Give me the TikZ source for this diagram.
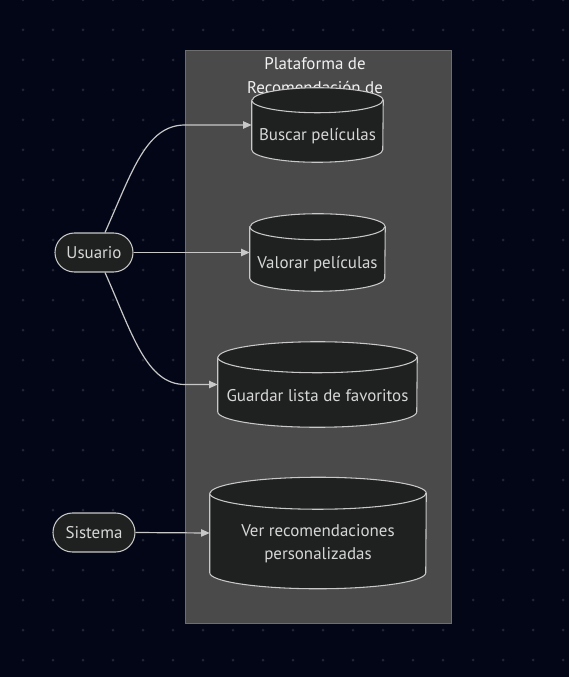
\documentclass[tikz,border=0pt]{standalone}
\usepackage{fontspec}
\setmainfont{PT Sans}
\usetikzlibrary{arrows.meta}

\definecolor{bgc}{RGB}{2,6,23}
\definecolor{dotc}{RGB}{34,38,50}
\definecolor{groupc}{RGB}{73,74,73}
\definecolor{grouplc}{RGB}{110,110,110}
\definecolor{nodec}{RGB}{31,32,32}
\definecolor{linec}{RGB}{200,200,200}
\definecolor{textc}{RGB}{215,215,215}

% cylinder round a body node: name, x radius, y radius
\newcommand{\dbcyl}[3]{%
  \filldraw[dbline] (#1.north west) -- (#1.south west)
    arc[start angle=180,end angle=360,x radius=#2,y radius=#3]
    -- (#1.north east)
    arc[start angle=0,end angle=180,x radius=#2,y radius=#3] -- cycle;
  \draw[dbline] (#1.north west) arc[start angle=180,end angle=360,x radius=#2,y radius=#3];
}

\begin{document}
\begin{tikzpicture}[x=0.75pt,y=0.75pt,
  >={Triangle[length=6.5pt,width=5.5pt]},
  dbline/.style={draw=linec,fill=nodec,line width=0.8pt},
  dbbody/.style 2 args={minimum width=#1*0.75pt,minimum height=#2*0.75pt,inner sep=0pt,draw=none},
  dbtext/.style={text=textc,font=\fontsize{12.7pt}{17.25pt}\selectfont,align=center,inner sep=0pt},
  actor/.style={draw=linec,fill=nodec,line width=0.8pt,rounded corners=14.6pt,
    minimum height=29.25pt,inner sep=0pt,text=textc,font=\fontsize{12.7pt}{14pt}\selectfont},
  link/.style={draw=linec,line width=0.9pt}]
\useasboundingbox (0,0) rectangle (569,-677);
\fill[bgc] (0,0) rectangle (569,-677);
\foreach \i in {0,1,...,18}
  \foreach \j in {0,1,...,22}
    \fill[dotc] (23+30*\i,-30*\j) circle[radius=1.5];

\filldraw[fill=groupc,draw=grouplc,line width=0.6pt] (185,-50) rectangle (451,-623);
\node[text=white!95!black,font=\fontsize{12.7pt}{18pt}\selectfont,align=center] (title) at (315,-76)
  {Plataforma de\\Recomendación de};

\node[dbbody={131}{49}] (buscar) at (317.5,-125) {};
\dbcyl{buscar}{65.5}{12.5}
\node[dbtext] (buscartxt) at ([yshift=-8.25pt]buscar.center) {Buscar películas};

\node[dbbody={135}{51}] (valorar) at (317.5,-252.5) {};
\dbcyl{valorar}{67.5}{13}
\node[dbtext] (valorartxt) at ([yshift=-8.6pt]valorar.center) {Valorar películas};

\node[dbbody={199}{54}] (guardar) at (317.5,-384.5) {};
\dbcyl{guardar}{99.5}{15.5}
\node[dbtext] (guardartxt) at ([yshift=-8.6pt]guardar.center) {Guardar lista de favoritos};

\node[dbbody={216}{79}] (ver) at (318,-533) {};
\dbcyl{ver}{108}{16}
\node[dbtext] (vertxt) at ([yshift=-8pt]ver.center) {Ver recomendaciones\\personalizadas};

\node[actor,minimum width=58.5pt] (usuario) at (94,-252.5) {Usuario};
\node[actor,minimum width=61.5pt] (sistema) at (94,-532.5) {Sistema};

\draw[link,->] ([xshift=8.25pt]usuario.north) .. controls (132,-172) and (146,-125) .. (185,-125) -- (buscar.west);
\draw[link,->] (usuario.east) -- (valorar.west);
\draw[link,->] ([xshift=8.25pt]usuario.south) .. controls (132,-333) and (146,-384.5) .. (185,-384.5) -- (guardar.west);
\draw[link,->] (sistema.east) -- (ver.west);
\end{tikzpicture}
\end{document}
